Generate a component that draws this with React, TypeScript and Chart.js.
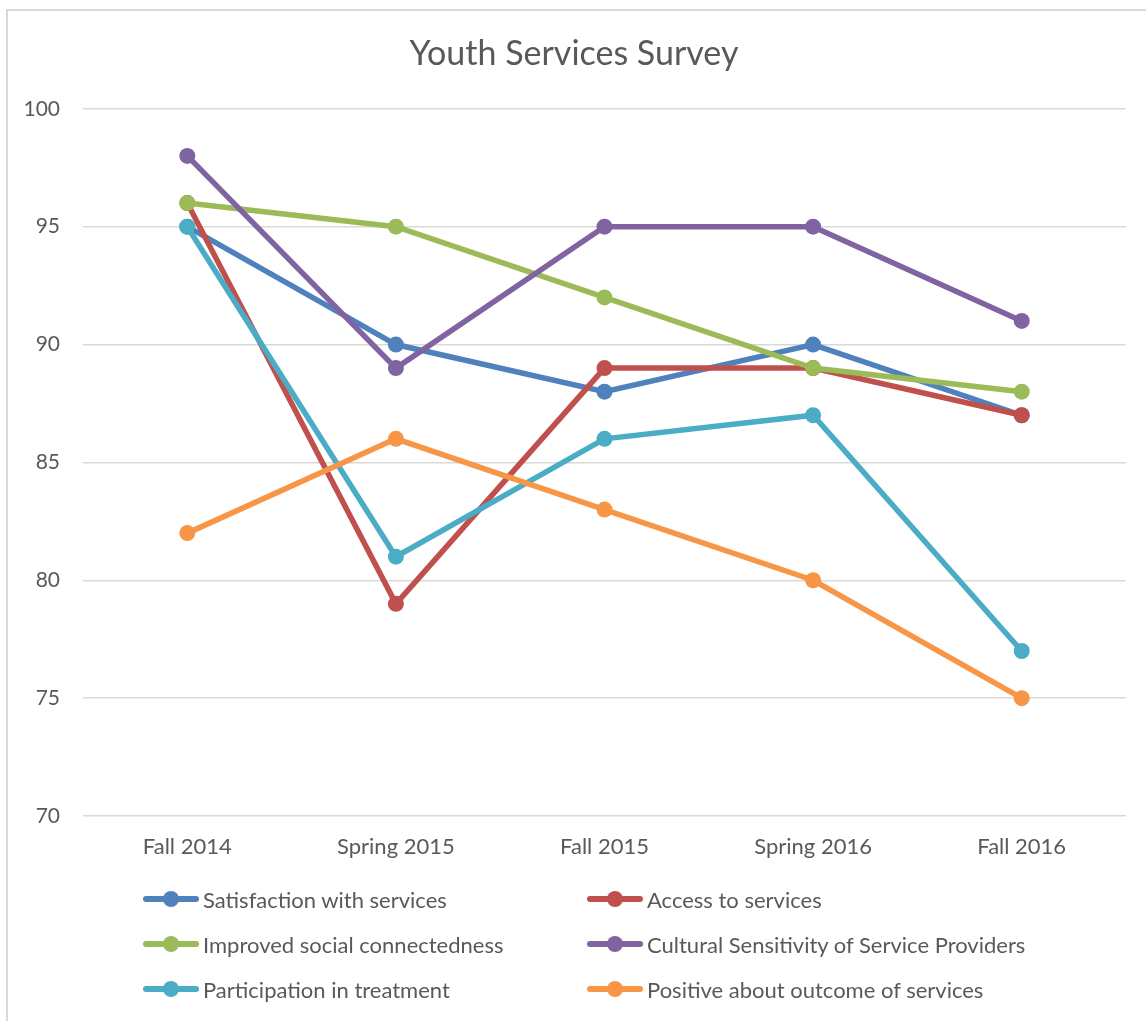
import React, { useEffect, useRef } from "react";
import { Chart, registerables } from "chart.js";

Chart.register(...registerables);

const categories = ["Fall 2014", "Spring 2015", "Fall 2015", "Spring 2016", "Fall 2016"];
const satisfaction = [95, 90, 88, 90, 87];
const access = [96, 79, 89, 89, 87];
const socialConnectedness = [96, 95, 92, 89, 88];
const culturalSensitivity = [98, 89, 95, 95, 91];
const participation = [95, 81, 86, 87, 77];
const positiveOutcome = [82, 86, 83, 80, 75];

const seriesNames = [
  "Satisfaction with services",
  "Access to services",
  "Improved social connectedness",
  "Cultural Sensitivity of Service Providers",
  "Participation in treatment",
  "Positive about outcome of services",
];
const seriesData = [satisfaction, access, socialConnectedness, culturalSensitivity, participation, positiveOutcome];
const seriesColors = ["#4F81BD", "#C0504D", "#9BBB59", "#8064A2", "#4BACC6", "#F79646"];
const yTicks = [70, 75, 80, 85, 90, 95, 100];

const FONT = "Lato, 'Open Sans', sans-serif";
const TEXT = "#595959";

export default function App() {
  const ref = useRef<HTMLCanvasElement | null>(null);
  useEffect(() => {
    if (!ref.current) return;
    const chart = new Chart(ref.current, {
      type: "line",
      data: {
        labels: categories,
        datasets: seriesData.map((d, i) => ({
          label: seriesNames[i],
          data: d,
          borderColor: seriesColors[i],
          backgroundColor: seriesColors[i],
          pointBackgroundColor: seriesColors[i],
          pointBorderColor: seriesColors[i],
          borderWidth: 5.5,
          pointRadius: 8,
          pointBorderWidth: 0,
          tension: 0,
          fill: false,
          order: seriesData.length - 1 - i,
        })),
      },
      options: {
        responsive: false,
        animation: false,
        layout: { padding: { left: 22, right: 20, top: 0, bottom: 0 } },
        plugins: {
          legend: { display: false },
          tooltip: { enabled: false },
          title: {
            display: true,
            text: "Youth Services Survey",
            color: TEXT,
            font: { family: FONT, size: 34, weight: "normal", lineHeight: 1.2 },
            padding: { top: 34, bottom: 34 },
          },
        },
        scales: {
          x: {
            offset: true,
            grid: { display: false, drawTicks: false },
            border: { display: false },
            ticks: { color: TEXT, font: { family: FONT, size: 22 }, padding: 18, maxRotation: 0 },
            afterFit: (s: any) => {
              s.height = 205;
            },
          },
          y: {
            min: 70,
            max: 100,
            afterBuildTicks: (s: any) => {
              s.ticks = yTicks.map((v) => ({ value: v }));
            },
            grid: { color: "#D9D9D9", lineWidth: 1.5, drawTicks: false },
            border: { display: false },
            ticks: { color: TEXT, font: { family: FONT, size: 21 }, padding: 23 },
            afterFit: (s: any) => {
              s.width = 61;
            },
          },
        },
      },
    });
    return () => chart.destroy();
  }, []);

  const legendPos = [
    { left: 143, top: 899 },
    { left: 587, top: 899 },
    { left: 143, top: 944 },
    { left: 587, top: 944 },
    { left: 143, top: 989 },
    { left: 587, top: 989 },
  ];

  return (
    <div style={{ position: "fixed", left: 0, top: 0, width: 1146, height: 1021, background: "#fff", overflow: "hidden" }}>
      <div
        style={{
          position: "absolute",
          left: 6,
          top: 9,
          width: 1160,
          height: 1040,
          border: "2px solid #D9D9D9",
          boxSizing: "border-box",
        }}
      />
      <canvas ref={ref} width={1146} height={1021} style={{ position: "absolute", left: 0, top: 0 }} />
      {seriesNames.map((name, i) => (
        <div
          key={name}
          style={{
            position: "absolute",
            left: legendPos[i].left,
            top: legendPos[i].top - 14,
            height: 28,
            display: "flex",
            alignItems: "center",
            fontFamily: FONT,
            fontSize: 22,
            color: TEXT,
            whiteSpace: "nowrap",
          }}
        >
          <span style={{ position: "relative", width: 56, height: 28, display: "inline-block", marginRight: 4 }}>
            <span
              style={{
                position: "absolute",
                left: 0,
                right: 0,
                top: 11,
                height: 6,
                borderRadius: 3,
                background: seriesColors[i],
              }}
            />
            <span
              style={{
                position: "absolute",
                left: 20,
                top: 6,
                width: 16,
                height: 16,
                borderRadius: "50%",
                background: seriesColors[i],
              }}
            />
          </span>
          <span>{name}</span>
        </div>
      ))}
    </div>
  );
}
